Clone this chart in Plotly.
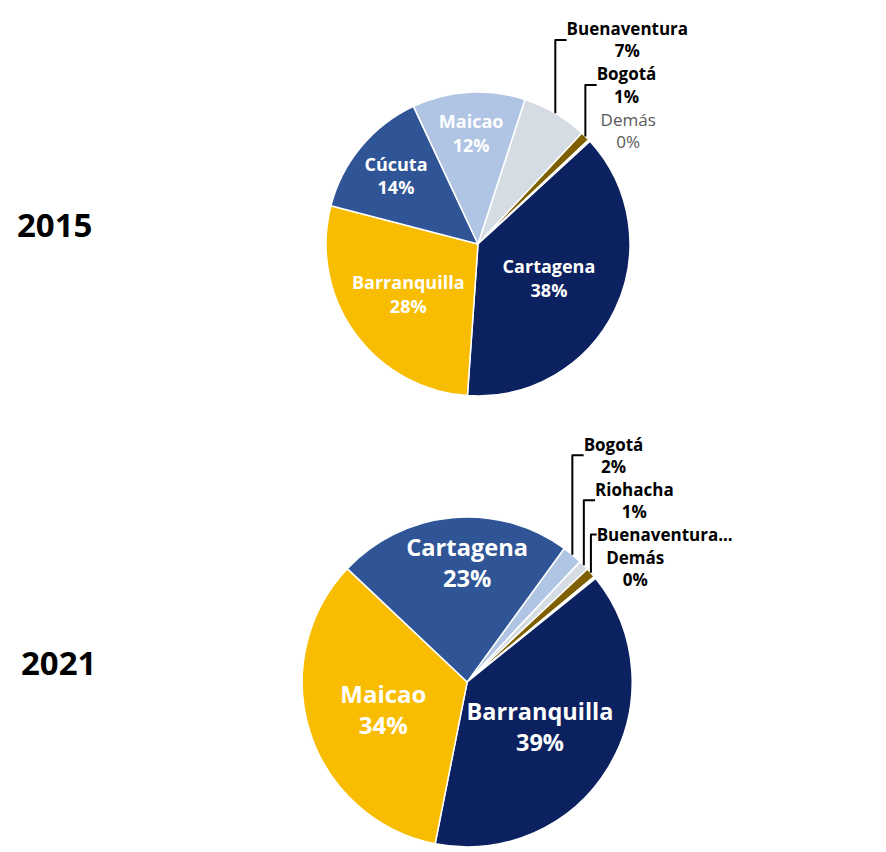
import plotly.graph_objects as go

# 2015 shares (clockwise order starting after Maicao)
labels_2015 = ["Buenaventura", "Bogotá", "Demás", "Cartagena", "Barranquilla", "Cúcuta", "Maicao"]
values_2015 = [7, 1, 0.2, 38, 28, 14, 12]
colors_2015 = ["#D6DCE4", "#7F6000", "#FFFFFF", "#0C2160", "#F8BD00", "#2F5597", "#B0C4E4"]

# 2021 shares
labels_2021 = ["Bogotá", "Riohacha", "Buenaventura", "Demás", "Barranquilla", "Maicao", "Cartagena"]
values_2021 = [2, 1, 1, 0.2, 39, 34, 23]
colors_2021 = ["#B0C4E4", "#D6DCE4", "#7F6000", "#FFFFFF", "#0C2160", "#F8BD00", "#2F5597"]

years = ["2015", "2021"]

BOLD = "<b>%{label}<br>%{percent:.0%}</b>"

def positions(vals):
    return ["inside" if v >= 10 else "outside" for v in vals]

tt_2015 = [BOLD, BOLD, "%{label}<br>%{percent:.0%}", BOLD, BOLD, BOLD, BOLD]
fc_2015 = ["#000000", "#000000", "#595959", "#FFFFFF", "#FFFFFF", "#FFFFFF", "#FFFFFF"]

tt_2021 = [BOLD, BOLD, "<b>%{label}...</b>", BOLD, BOLD, BOLD, BOLD]
fc_2021 = ["#000000", "#000000", "#000000", "#000000", "#FFFFFF", "#FFFFFF", "#FFFFFF"]

fig = go.Figure()

fig.add_trace(go.Pie(
    labels=labels_2015, values=values_2015, sort=False, direction="clockwise",
    rotation=18,
    marker=dict(colors=colors_2015, line=dict(color="#FFFFFF", width=1.5)),
    textposition=positions(values_2015),
    texttemplate=tt_2015,
    textfont=dict(family="Open Sans", size=17, color=fc_2015),
    insidetextfont=dict(family="Open Sans", size=18, color="#FFFFFF"),
    insidetextorientation="horizontal",
    automargin=False,
    domain=dict(x=[0.3622, 0.7084], y=[0.5403, 0.9005]),
    showlegend=False, hoverinfo="label+percent",
))

fig.add_trace(go.Pie(
    labels=labels_2021, values=values_2021, sort=False, direction="clockwise",
    rotation=36,
    marker=dict(colors=colors_2021, line=dict(color="#FFFFFF", width=1.5)),
    textposition=positions(values_2021),
    texttemplate=tt_2021,
    textfont=dict(family="Open Sans", size=17, color=fc_2021),
    insidetextfont=dict(family="Open Sans", size=24, color="#FFFFFF"),
    insidetextorientation="horizontal",
    automargin=False,
    domain=dict(x=[0.335, 0.711], y=[0.006, 0.397]),
    showlegend=False, hoverinfo="label+percent",
))

fig.add_annotation(x=0.0535, y=0.7429, xref="paper", yref="paper", text="<b>" + years[0] + "</b>",
                   xanchor="center", yanchor="middle",
                   showarrow=False, font=dict(family="Open Sans", size=33, color="#000000"))
fig.add_annotation(x=0.057, y=0.225, xref="paper", yref="paper", text="<b>" + years[1] + "</b>",
                   xanchor="center", yanchor="middle",
                   showarrow=False, font=dict(family="Open Sans", size=33, color="#000000"))

fig.update_layout(
    width=878, height=844,
    margin=dict(l=0, r=0, t=0, b=0, autoexpand=False),
    paper_bgcolor="#FFFFFF", plot_bgcolor="#FFFFFF",
    font=dict(family="Open Sans"),
)

fig.write_html("out.html")
